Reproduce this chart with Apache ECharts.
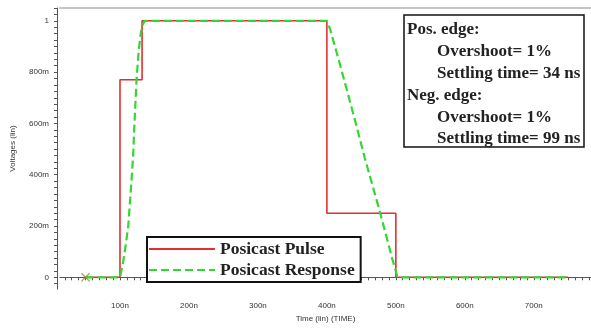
<!DOCTYPE html>
<html><head><meta charset="utf-8">
<script src="https://cdn.jsdelivr.net/npm/echarts@6/dist/echarts.min.js"></script>
<style>html,body{margin:0;padding:0;background:#fff}#c{width:591px;height:328px}</style>
</head><body><div id="c"></div>
<script>
// Posicast Pulse (time in ns, voltage)
const pulseT = [50, 100, 100, 132, 132, 400, 400, 500, 500, 750];
const pulseV = [0, 0, 0.77, 0.77, 1, 1, 0.25, 0.25, 0, 0];
// Posicast Response
const respT = [50, 100, 104, 108, 112, 116, 119, 121, 124, 127, 130, 133, 136, 200, 300, 400, 405, 420, 440, 455, 477, 495, 502, 506, 600, 750];
const respV = [0, 0, 0.05, 0.12, 0.2, 0.35, 0.47, 0.6, 0.77, 0.88, 0.95, 0.985, 1.0, 1.0, 1.0, 1.0, 0.965, 0.82, 0.62, 0.465, 0.254, 0.07, 0.005, 0, 0, 0];
// start marker
const markerT = [50];
const markerV = [0];
const yTickLabels = [0, 0.2, 0.4, 0.6, 0.8, 1];
const yTickText = ['0', '200m', '400m', '600m', '800m', '1'];
const xTickLabels = [100, 200, 300, 400, 500, 600, 700];
const seriesNames = ['Posicast Pulse', 'Posicast Response'];
const infoLines = [
  ['Pos. edge:', 0], ['Overshoot= 1%', 1], ['Settling time= 34 ns', 1],
  ['Neg. edge:', 0], ['Overshoot= 1%', 1], ['Settling time= 99 ns', 1]
];

const zip = (a, b) => a.map((v, i) => [v, b[i]]);
const xMinor = []; for (let t = 20; t <= 780; t += 10) xMinor.push(t);
const yMinor = []; for (let k = -1; k <= 42; k++) yMinor.push(Math.round(k * 25) / 1000);

const chart = echarts.init(document.getElementById('c'), null, {renderer: 'canvas'});
const axisFont = {fontFamily: 'Liberation Sans', fontSize: 8, color: '#333'};
chart.setOption({
  backgroundColor: '#fff',
  animation: false,
  grid: {left: 60, right: 0, top: 8, bottom: 35},
  xAxis: [{
    type: 'value', min: 13, max: 783, offset: 2,
    name: 'Time (lin) (TIME)', nameLocation: 'middle', nameGap: 21,
    nameTextStyle: axisFont,
    axisLine: {lineStyle: {color: '#555', width: 1}},
    axisTick: {customValues: xMinor, length: 3, lineStyle: {color: '#555'}},
    axisLabel: Object.assign({customValues: xTickLabels, margin: 11, formatter: v => v + 'n'}, axisFont),
    splitLine: {show: false}
  }, {
    type: 'value', position: 'top', min: 13, max: 783,
    axisLine: {lineStyle: {color: '#c4c4c4', width: 2}},
    axisTick: {show: false}, axisLabel: {show: false}, splitLine: {show: false}
  }],
  yAxis: {
    type: 'value', min: -0.046, max: 1.05, offset: 3,
    name: 'Voltages (lin)', nameLocation: 'middle', nameGap: 40, nameRotate: 90,
    nameTextStyle: axisFont,
    axisLine: {show: true, lineStyle: {color: '#555', width: 1}},
    axisTick: {show: true, customValues: yMinor, length: 3, lineStyle: {color: '#555'}},
    axisLabel: Object.assign({customValues: yTickLabels, margin: 8,
      formatter: v => { const i = yTickLabels.findIndex(t => Math.abs(t - v) < 1e-6); return i >= 0 ? yTickText[i] : ''; }}, axisFont),
    splitLine: {show: false}
  },
  legend: {
    data: seriesNames, orient: 'vertical', left: 147, top: 237,
    padding: [3, 6, 3, 1], itemGap: 3, itemWidth: 66, itemHeight: 20,
    borderColor: '#111', borderWidth: 2, backgroundColor: '#fff',
    itemStyle: {opacity: 0},
    textStyle: {fontFamily: 'Liberation Serif', fontWeight: 'bold', fontSize: 17.5, color: '#222'}
  },
  series: [{
    name: seriesNames[0], type: 'line', data: zip(pulseT, pulseV), symbol: 'none',
    lineStyle: {color: '#e03030', width: 1.6}, itemStyle: {color: '#e03030'}, z: 2
  }, {
    name: seriesNames[1], type: 'line', data: zip(respT, respV), symbol: 'none',
    lineStyle: {color: '#33d633', width: 2.2, type: [8, 4]}, itemStyle: {color: '#33d633'}, z: 3
  }, {
    name: 'start', type: 'scatter', data: zip(markerT, markerV),
    symbol: 'path://M0,1L1,0L5,4L9,0L10,1L6,5L10,9L9,10L5,6L1,10L0,9L4,5Z', symbolSize: 9,
    itemStyle: {color: '#8a8a30'}, z: 4
  }],
  graphic: [{
    type: 'rect', shape: {x: 404, y: 15, width: 180, height: 132},
    style: {fill: '#fff', stroke: '#111', lineWidth: 1.5}, z: 10
  }].concat(infoLines.map((l, i) => ({
    type: 'text', x: l[1] ? 437 : 407, y: 30 + i * 21.8, z: 11,
    style: {text: l[0], fontFamily: 'Liberation Serif', fontWeight: 'bold', fontSize: 17,
      fill: '#222', verticalAlign: 'middle'}
  })))
});
</script></body></html>
